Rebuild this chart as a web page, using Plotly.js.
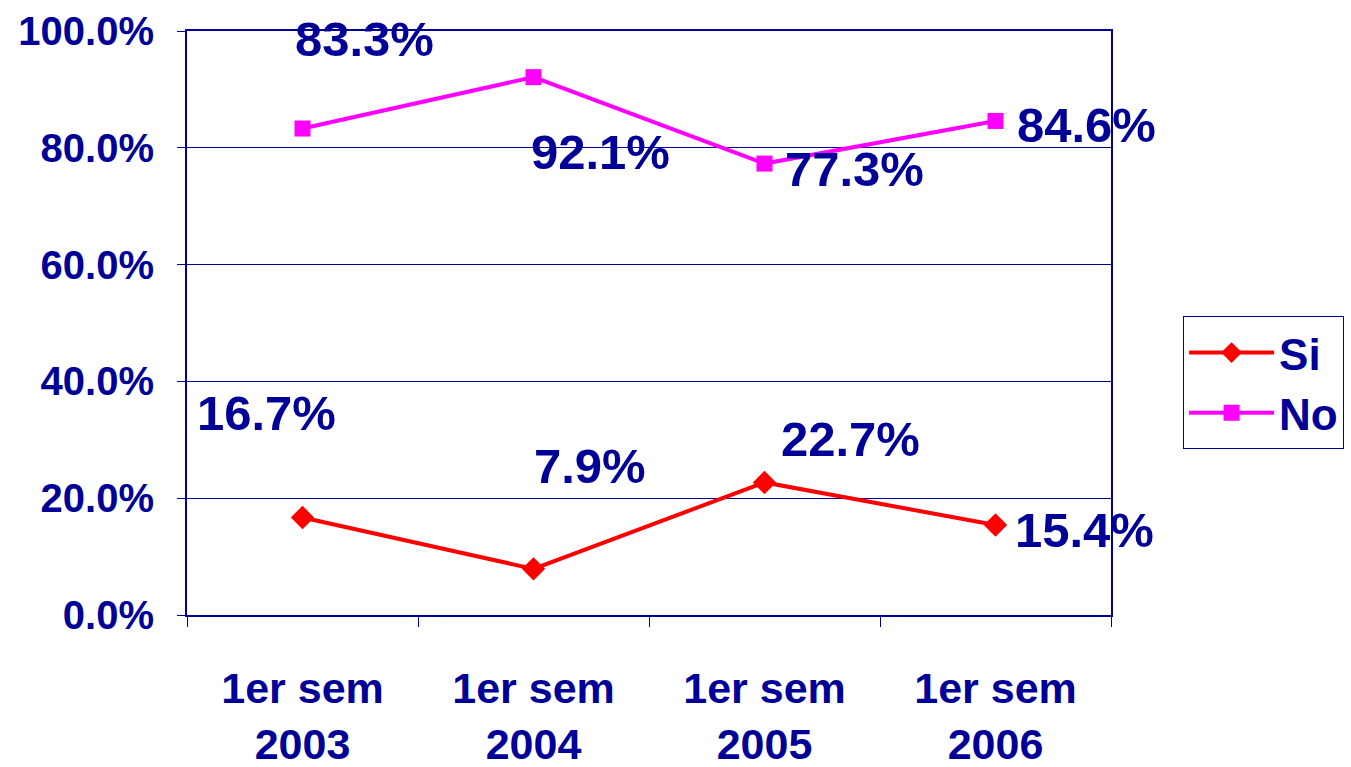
<!DOCTYPE html>
<html><head><meta charset="utf-8">
<script src="https://cdn.plot.ly/plotly-3.0.1.min.js"></script>
<style>html,body{margin:0;padding:0;background:#fff;}#chart{width:1351px;height:767px;}</style>
</head><body><div id="chart"></div>
<script>
const categories = ['1er sem<br>2003','1er sem<br>2004','1er sem<br>2005','1er sem<br>2006'];
const siValues = [0.167, 0.079, 0.227, 0.154];
const noValues = [0.833, 0.921, 0.773, 0.846];
const seriesNames = ['Si','No'];

const navy = '#000099';
const fontFam = '"Liberation Sans", Arial, sans-serif';

// label pixel offsets (style only)
const siShift = [[-36,104],[56,103],[86,43],[89,-5]];
const noShift = [[62,90],[67,-75],[90,-5],[91,-4]];

const traces = [
  {x: categories, y: siValues, name: seriesNames[0], type:'scatter', mode:'lines+markers',
   line:{color:'#ff0000', width:4}, marker:{symbol:'diamond', size:18, color:'#ff0000'}},
  {x: categories, y: noValues, name: seriesNames[1], type:'scatter', mode:'lines+markers',
   line:{color:'#ff00ff', width:4}, marker:{symbol:'square', size:16, color:'#ff00ff'}}
];

const annotations = [];
function addLabels(vals, shifts){
  vals.forEach((v,i)=>{
    annotations.push({x: categories[i], y: v, xref:'x', yref:'y', showarrow:false,
      text:(v*100).toFixed(1)+'%', xshift: shifts[i][0], yshift: shifts[i][1],
      font:{family:fontFam, size:49, color:navy, weight:700}});
  });
}
addLabels(siValues, siShift);
addLabels(noValues, noShift);

const layout = {
  width:1351, height:767,
  margin:{l:187, r:240, t:31, b:152, autoexpand:false},
  paper_bgcolor:'#fff', plot_bgcolor:'#fff',
  showlegend:true,
  legend:{xref:'container', yref:'container', x:0.8757, xanchor:'left', y:0.5007, yanchor:'middle', itemwidth:85,
    bordercolor:navy, borderwidth:1, bgcolor:'#fff',
    font:{family:fontFam, size:44, color:navy, weight:700}, tracegroupgap:0},
  xaxis:{type:'category', range:[-0.5,3.5], tickson:'boundaries', ticks:'outside', ticklen:10, tickcolor:navy,
    showline:true, linecolor:navy, linewidth:2, mirror:true, showgrid:false, ticklabelstandoff:34,
    tickfont:{family:fontFam, size:43, color:navy, weight:700}, fixedrange:true},
  yaxis:{range:[0,1], dtick:0.2, tickformat:'.1%', ticks:'outside', ticklen:8, tickcolor:navy,
    showline:true, linecolor:navy, linewidth:2, mirror:true, showgrid:true, gridcolor:navy, gridwidth:1,
    ticklabelstandoff:15,
    zeroline:false, tickfont:{family:fontFam, size:40, color:navy, weight:700}},
  annotations: annotations
};

Plotly.newPlot('chart', traces, layout, {displayModeBar:false, staticPlot:true});
</script></body></html>
